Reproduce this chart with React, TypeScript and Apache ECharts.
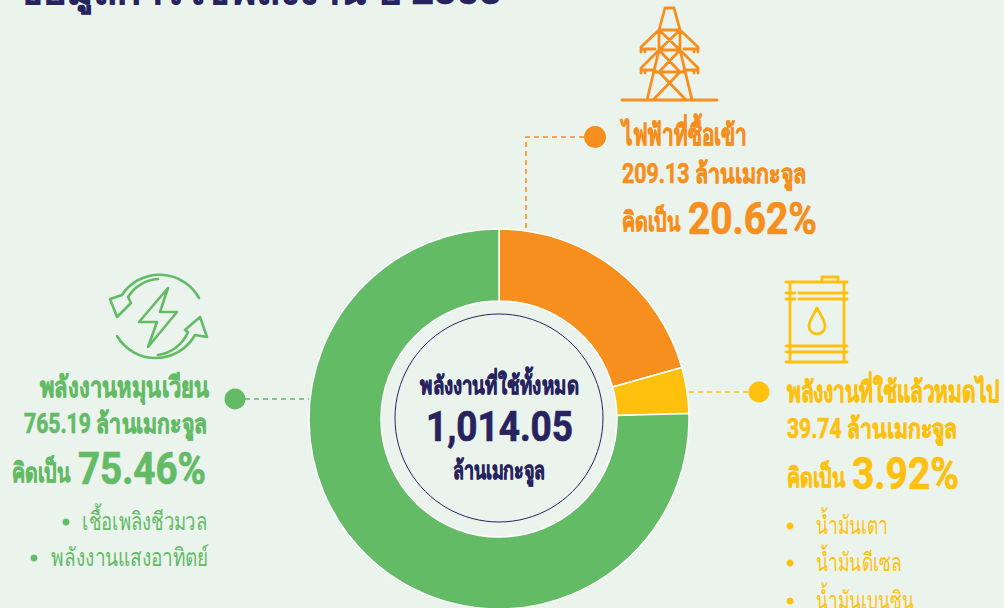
import React, { useEffect, useRef } from "react";
import * as echarts from "echarts";

const categories = ["ไฟฟ้าที่ซื้อเข้า", "พลังงานที่ใช้แล้วหมดไป", "พลังงานหมุนเวียน"];
const values = [209.13, 39.74, 765.19];
const colors = ["#F78F1E", "#FFC10E", "#63BB66"];
const NAVY = "#27235F";
const BG = "#EBF3ED";
const FONT = '"Roboto", "Noto Sans", sans-serif';

const towerD = "M622 100H717M647 100L659 50V30L665 8H674L680 30V50L692 100M659 30H680M659 50H680M659 30L680 50M680 30L659 50M659 50L680 72M680 50L659 72M654 72H685M659 72L686 100M680 72L653 100M659 30L641 47V52M641 49H655M645 49V52M680 30L698 47V52M698 49H684M694 49V52M659 50L641 68V73M641 70H655M645 70V73M680 50L698 68V73M698 70H684M694 70V73";
const recycleD = "M199 298A45 45 0 0 0 122 295L110 299L117 317L131 303L128 297A38 38 0 0 1 158 279M117 336A45 45 0 0 0 195 335L207 337L200 317L185 330L188 332A38 38 0 0 1 158 355M168 288L139 322H157L148 347L177 312H160L168 288Z";
const barrelD = "M786 282H847M790 282V362M844 282V362M786 362H847M786 293H795M799 293H847M786 299H795M799 299H847M786 346H843M786 352H843M840 346H847M840 352H847M822 282V277H838V282M817 308C813 316 809 321 809 326C809 331 813 334 817 334C821 334 825 331 825 326C825 321 821 316 817 308Z";

echarts.graphic.registerShape("towerIcon", echarts.graphic.extendPath(towerD, {}));
echarts.graphic.registerShape("recycleIcon", echarts.graphic.extendPath(recycleD, {}));
echarts.graphic.registerShape("barrelIcon", echarts.graphic.extendPath(barrelD, {}));

const cv = document.createElement("canvas").getContext("2d") as CanvasRenderingContext2D;
function txt(text: string, x: number, cy: number, w: number, size: number, fill: string, weight = "bold"): any {
  const font = `${weight} ${size}px ${FONT}`;
  cv.font = font;
  const natural = cv.measureText(text).width || w;
  return {
    type: "text", x, y: cy, scaleX: w / natural, silent: true, z: 10,
    style: {
      text, font, fill, textAlign: "left", textVerticalAlign: "middle",
      stroke: weight === "bold" ? fill : "transparent", lineWidth: weight === "bold" ? 0.7 : 0,
    },
  };
}
const dot = (x: number, y: number, r: number, fill: string) => ({ type: "circle", z: 9, shape: { cx: x, cy: y, r }, style: { fill } });
const dash = (points: number[][], stroke: string) => ({ type: "polyline", z: 1, shape: { points }, style: { stroke, lineWidth: 1.6, lineDash: [5, 4], fill: "none" } });
const icon = (type: string, stroke: string, lineWidth: number) => ({ type, x: 0, y: 0, style: { stroke, lineWidth, fill: "none", lineCap: "round", lineJoin: "round" } });

export default function App() {
  const ref = useRef<HTMLDivElement>(null);
  useEffect(() => {
    document.body.style.margin = "0";
    const chart = echarts.init(ref.current!, null, { renderer: "svg" });
    const [o, y, g] = colors;
    chart.setOption({
      animation: false,
      backgroundColor: BG,
      series: [{
        type: "pie", center: [499, 419], radius: [118, 190], startAngle: 90, clockwise: true,
        label: { show: false }, labelLine: { show: false }, silent: true,
        itemStyle: { borderColor: "#FFFFFF", borderWidth: 1.5 },
        data: categories.map((name, i) => ({ name, value: values[i], itemStyle: { color: colors[i] } })),
      }],
      graphic: { elements: [
        txt("ข้อมูลการใช้พลังงาน ปี 2565", 16, -8, 488, 36, NAVY),
        dash([[526, 228], [526, 137], [586, 137]], o),
        dash([[689, 392], [750, 392]], y),
        dash([[245, 399], [310, 399]], g),
        dot(595, 137, 11, o), dot(759, 392, 10.5, y), dot(235, 399, 10.5, g),
        icon("towerIcon", o, 2.8), icon("recycleIcon", g, 2.6), icon("barrelIcon", y, 2.8),
        { type: "circle", shape: { cx: 499, cy: 418, r: 104 }, style: { fill: "none", stroke: NAVY, lineWidth: 1 } },

        txt(categories[0], 622, 135, 125, 29, o),
        txt("209.13 ล้านเมกะจูล", 622, 174, 184, 27, o),
        txt("คิดเป็น", 622, 222, 58, 27, o),
        txt("20.62%", 688, 219, 129, 44, o),

        txt(categories[2], 40, 387, 167, 29, g),
        txt("765.19 ล้านเมกะจูล", 24, 424, 183, 27, g),
        txt("คิดเป็น", 12, 473, 58, 27, g),
        txt("75.46%", 78, 469, 128, 44, g),
        dot(66, 522, 3.5, g), txt("เชื้อเพลิงชีวมวล", 82, 521, 125, 25, g, "normal"),
        dot(34, 558, 3.5, g), txt("พลังงานแสงอาทิตย์", 51, 557, 156, 25, g, "normal"),

        txt(categories[1], 787, 392, 214, 29, y),
        txt("39.74 ล้านเมกะจูล", 787, 429, 170, 27, y),
        txt("คิดเป็น", 787, 478, 58, 27, y),
        txt("3.92%", 852, 474, 107, 44, y),
        dot(790, 526, 3.5, y), txt("น้ำมันเตา", 816, 525, 72, 25, y, "normal"),
        dot(790, 563, 3.5, y), txt("น้ำมันดีเซล", 816, 562, 85, 25, y, "normal"),
        dot(790, 601, 3.5, y), txt("น้ำมันเบนซิน", 816, 600, 97, 25, y, "normal"),

        txt("พลังงานที่ใช้ทั้งหมด", 420, 385, 154, 25, NAVY),
        txt("1,014.05", 426, 427, 147, 42, NAVY),
        txt("ล้านเมกะจูล", 453, 470, 92, 25, NAVY),
      ] },
    });
    return () => chart.dispose();
  }, []);
  return <div ref={ref} style={{ width: 1004, height: 608 }} />;
}
